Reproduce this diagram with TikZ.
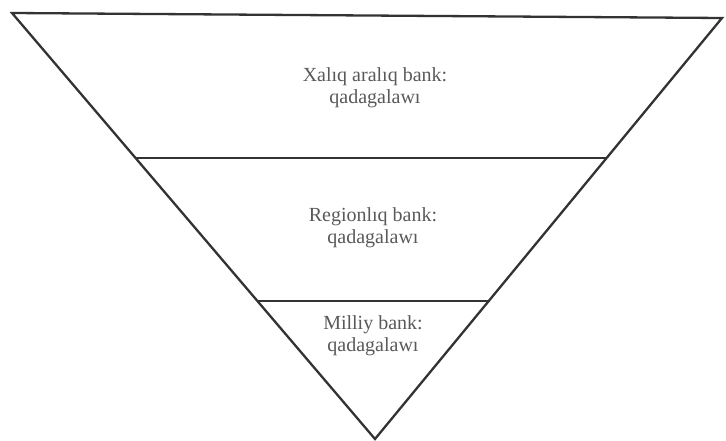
\documentclass[tikz,border=0pt]{standalone}
\usepackage{fontspec}
\setmainfont{Liberation Serif}
\begin{document}
\begin{tikzpicture}[x=1pt,y=-1pt,
  edge/.style={draw=black!80, line width=2.3pt, line join=miter},
  label/.style={font=\fontsize{20}{22}\selectfont, text=black!65, align=center}]
\useasboundingbox (0,0) rectangle (726,441);
\coordinate (tl) at (12,13);
\coordinate (tr) at (722,18);
\coordinate (ap) at (375,439);
\coordinate (l1) at (136,158);
\coordinate (r1) at (607,158);
\coordinate (l2) at (257,301);
\coordinate (r2) at (490,301);
\draw[edge] (tl) -- (tr) -- (ap) -- cycle;
\draw[edge] (l1) -- (r1);
\draw[edge] (l2) -- (r2);
\node[label] (t1) at (375,88) {Xalıq aralıq bank:\\qadagalawı};
\node[label] (t2) at (373,228) {Regionlıq bank:\\qadagalawı};
\node[label] (t3) at (373,336) {Milliy bank:\\qadagalawı};
\end{tikzpicture}
\end{document}
